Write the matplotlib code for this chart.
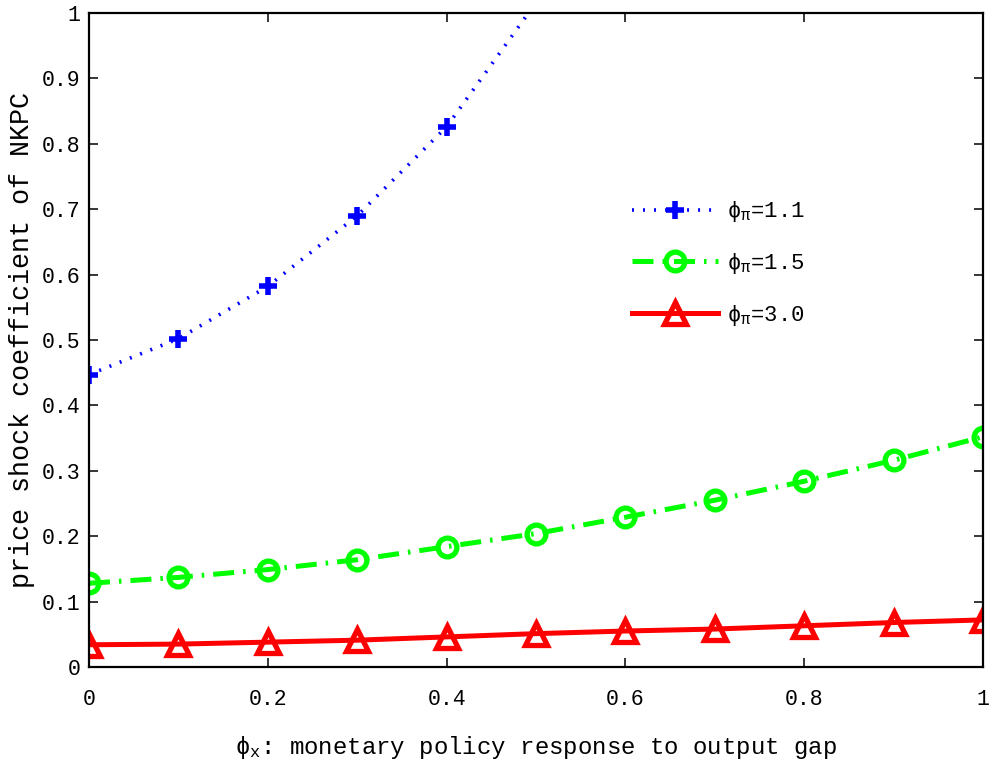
import matplotlib
matplotlib.use("Agg")
import matplotlib.pyplot as plt
import numpy as np

# monetary policy response to output gap
phi_x = [0.0, 0.1, 0.2, 0.3, 0.4, 0.5, 0.6, 0.7, 0.8, 0.9, 1.0]

# price shock coefficient of NKPC for each phi_pi
coef_11 = [0.447, 0.502, 0.582, 0.690, 0.826, 1.016, 1.27, 1.62, 2.10, 2.85, 4.10]
coef_15 = [0.128, 0.137, 0.149, 0.164, 0.184, 0.204, 0.229, 0.255, 0.284, 0.316, 0.352]
coef_30 = [0.034, 0.035, 0.038, 0.041, 0.046, 0.051, 0.055, 0.058, 0.063, 0.068, 0.072]

labels = ["ϕ$_π$=1.1", "ϕ$_π$=1.5", "ϕ$_π$=3.0"]
xticks = [0, 0.2, 0.4, 0.6, 0.8, 1]
xtick_labels = ["0", "0.2", "0.4", "0.6", "0.8", "1"]
yticks = [0, 0.1, 0.2, 0.3, 0.4, 0.5, 0.6, 0.7, 0.8, 0.9, 1]
ytick_labels = ["0", "0.1", "0.2", "0.3", "0.4", "0.5", "0.6", "0.7", "0.8", "0.9", "1"]

plt.rcParams['font.family'] = ['Liberation Mono', 'DejaVu Sans Mono', 'DejaVu Sans']
plt.rcParams['mathtext.fontset'] = 'custom'
plt.rcParams['mathtext.rm'] = 'Liberation Mono'
plt.rcParams['mathtext.it'] = 'Liberation Mono'
plt.rcParams['mathtext.default'] = 'rm'

fig = plt.figure(figsize=(9.97, 7.71), dpi=100)
ax = fig.add_axes([0.0893, 0.1349, 0.8967, 0.8483])

ax.plot(phi_x, coef_11, color='#0000ff', linestyle=(0, (0.55, 2.5)), linewidth=2.6,
        marker='+', markersize=12.5, markeredgewidth=4, label=labels[0])
ax.plot(phi_x, coef_15, color='#00ff00', linestyle=(0, (4.2, 1.8, 0.5, 1.8)), linewidth=3.6,
        marker='o', markersize=13.5, markeredgewidth=3.8, markerfacecolor='none', label=labels[1])
ax.plot(phi_x, coef_30, color='#ff0000', linestyle='-', linewidth=3.6,
        marker='^', markersize=16, markeredgewidth=3.8, markerfacecolor='none', label=labels[2])

ax.set_xlim(0, 1)
ax.set_ylim(0, 1)
ax.set_xticks(xticks)
ax.set_xticklabels(xtick_labels)
ax.set_yticks(yticks)
ax.set_yticklabels(ytick_labels)

for s in ax.spines.values():
    s.set_linewidth(1.6)
ax.tick_params(axis='both', direction='in', length=6.5, width=1.1, labelsize=15.5,
               top=True, right=True)
ax.tick_params(axis='x', pad=16)
ax.tick_params(axis='y', pad=6)

ax.set_xlabel("ϕ$_x$: monetary policy response to output gap", fontsize=17.3, labelpad=17)
ax.set_ylabel("price shock coefficient of NKPC", fontsize=19.3, labelpad=5)

leg = ax.legend(loc='upper left', bbox_to_anchor=(0.607, 0.715), frameon=False,
                fontsize=16, handlelength=3.9, handletextpad=0.4, labelspacing=1.2,
                borderpad=0, borderaxespad=0)

fig.savefig("out.png", dpi=100)
